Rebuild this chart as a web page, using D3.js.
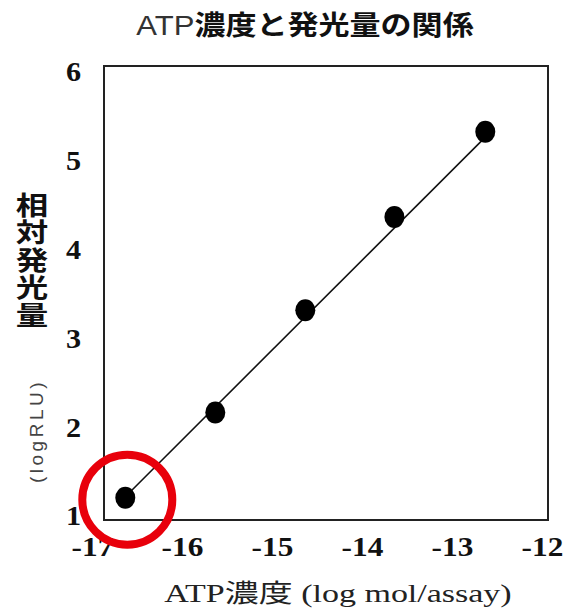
<!DOCTYPE html>
<html>
<head>
<meta charset="utf-8">
<script src="https://cdn.jsdelivr.net/npm/d3@7"></script>
<style>
  body { margin: 0; background: #fff; }
</style>
</head>
<body>
<div id="chart"></div>
<script>
// data
var atpLog = [-16.63, -15.63, -14.63, -13.64, -12.63];
var rluLog = [1.24, 2.2, 3.35, 4.4, 5.36];

// regression line end points
var fitX = [-16.63, -12.63];
var fitY = [1.25, 5.3];

var xTicks = [-17, -16, -15, -14, -13, -12];
var yTicks = [1, 2, 3, 4, 5, 6];

var width = 572, height = 616;

var svg = d3.select("#chart")
            .append("svg")
            .attr("width", width)
            .attr("height", height);

// scales
var x = d3.scaleLinear()
          .domain([-17, -12])
          .range([92, 542]);

var y = d3.scaleLinear()
          .domain([1, 6])
          .range([519, 75]);

// plain hyphen minus like the original
var plainFormat = function(d) { return String(d); };

// plot frame
svg.append("rect")
   .attr("x", 104)
   .attr("y", 66)
   .attr("width", 444)
   .attr("height", 454)
   .attr("fill", "none")
   .attr("stroke", "#222")
   .attr("stroke-width", 2);

// x axis
var xAxis = svg.append("g")
               .attr("transform", "translate(0,556)")
               .call(d3.axisBottom(x).tickValues(xTicks).tickSize(0).tickFormat(plainFormat));
xAxis.select(".domain").remove();
xAxis.selectAll("text")
     .attr("y", 0)
     .attr("dy", 0)
     .attr("transform", "scale(1.12,1)")
     .style("font-family", "'Liberation Serif', 'Times New Roman', serif")
     .style("font-weight", "bold")
     .style("font-size", "28px")
     .attr("fill", "#111");

// y axis
var yAxis = svg.append("g")
               .attr("transform", "translate(81,0)")
               .call(d3.axisLeft(y).tickValues(yTicks).tickSize(0).tickFormat(plainFormat));
yAxis.select(".domain").remove();
yAxis.selectAll("text")
     .attr("x", 0)
     .attr("dy", "0.22em")
     .attr("transform", "scale(1.12,1)")
     .style("font-family", "'Liberation Serif', 'Times New Roman', serif")
     .style("font-weight", "bold")
     .style("font-size", "27px")
     .attr("fill", "#111");

// fitted line
var line = d3.line()
             .x(function(d) { return x(d[0]); })
             .y(function(d) { return y(d[1]); });

svg.append("path")
   .attr("d", line(d3.zip(fitX, fitY)))
   .attr("fill", "none")
   .attr("stroke", "#111")
   .attr("stroke-width", 1.6);

// points
svg.selectAll(".pt")
   .data(d3.zip(atpLog, rluLog))
   .enter()
   .append("ellipse")
   .attr("class", "pt")
   .attr("cx", function(d) { return x(d[0]); })
   .attr("cy", function(d) { return y(d[1]); })
   .attr("rx", 10)
   .attr("ry", 11)
   .attr("fill", "#000");

// red highlight round the lowest point
svg.append("circle")
   .attr("cx", x(atpLog[0]) + 2)
   .attr("cy", y(rluLog[0]) + 2)
   .attr("r", 45)
   .attr("fill", "none")
   .attr("stroke", "#e8000b")
   .attr("stroke-width", 8);

// title
var title = svg.append("text")
               .attr("transform", "translate(305,35) scale(1.15,1)")
               .attr("text-anchor", "middle")
               .style("font-size", "27px")
               .attr("fill", "#111");
title.append("tspan")
     .style("font-family", "'Liberation Sans', Arial, sans-serif")
     .style("font-weight", "normal")
     .attr("fill", "#333")
     .text("ATP");
title.append("tspan")
     .style("font-family", "'Noto Sans CJK JP', sans-serif")
     .style("font-weight", "bold")
     .text("濃度と発光量の関係");

// y label, written vertically
svg.append("text")
   .attr("transform", "translate(32,192) scale(1.25,1)")
   .style("writing-mode", "vertical-rl")
   .style("font-family", "'Noto Sans CJK JP', sans-serif")
   .style("font-weight", "bold")
   .style("font-size", "26px")
   .style("letter-spacing", "1.5px")
   .attr("fill", "#111")
   .text("相対発光量");

svg.append("text")
   .attr("transform", "translate(36,431) rotate(-90)")
   .attr("text-anchor", "middle")
   .attr("dy", "0.35em")
   .style("font-family", "'Liberation Sans', Arial, sans-serif")
   .style("font-size", "19px")
   .style("letter-spacing", "3.5px")
   .attr("fill", "#444")
   .text("(logRLU)");

// x label
svg.append("text")
   .attr("transform", "translate(338,602) scale(1.36,1)")
   .attr("text-anchor", "middle")
   .style("font-family", "'Liberation Serif', 'Times New Roman', 'Noto Sans CJK JP', serif")
   .style("font-size", "25px")
   .attr("fill", "#222")
   .text("ATP濃度 (log mol/assay)");
</script>
</body>
</html>
